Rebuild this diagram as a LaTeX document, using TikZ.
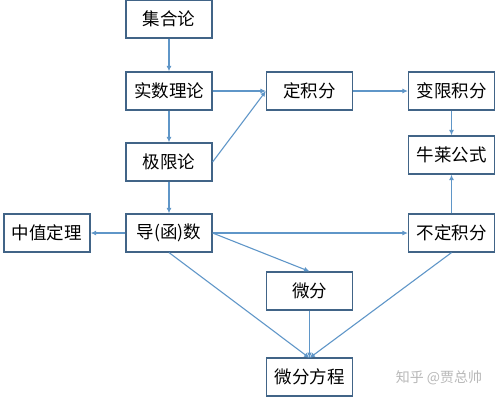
\documentclass[tikz,border=0pt]{standalone}
\usepackage{fontspec}
\setmainfont{Noto Sans CJK SC}
\usetikzlibrary{arrows.meta}
\definecolor{boxc}{RGB}{65,100,135}
\definecolor{linec}{RGB}{95,150,200}
\tikzset{
  box/.style={draw=boxc, line width=1.2pt, fill=white, minimum width=86pt, minimum height=38pt, inner sep=0pt, font=\fontsize{17.5}{20}\selectfont},
  conn/.style={draw=linec, line width=1.1pt, -{Latex[length=5.5pt,width=5pt]}}
}
\begin{document}
\begin{tikzpicture}[x=1pt,y=-1pt]
\useasboundingbox (0,0) rectangle (498,400);
\node[box] (jh) at (169,19) {集合论};
\node[box] (ss) at (169,91) {实数理论};
\node[box] (jx) at (169,162) {极限论};
\node[box] (ds) at (169,233) {导(函)数};
\node[box] (zz) at (47,233) {中值定理};
\node[box] (dj) at (309.5,91) {定积分};
\node[box] (bx) at (451.5,91) {变限积分};
\node[box] (nl) at (451.5,155) {牛莱公式};
\node[box] (bd) at (451.5,233) {不定积分};
\node[box] (wf) at (309.5,291) {微分};
\node[box] (wfc) at (309.5,377) {微分方程};
\node[text=black!28, font=\fontsize{14}{16}\selectfont, anchor=center] (wm) at (439,378) {知乎 @贾总帅};
\coordinate (wftop) at (309.5,358);
\draw[conn] (jh) -- (ss);
\draw[conn] (ss) -- (jx);
\draw[conn] (jx) -- (ds);
\draw[conn] (ss.east) -- (dj.west);
\draw[conn] (jx.east) -- (dj.west);
\draw[conn] (dj) -- (bx);
\draw[conn] (bx) -- (nl);
\draw[conn] (bd) -- (nl);
\draw[conn] (ds) -- (zz);
\draw[conn] (ds.east) -- (bd.west);
\draw[conn] (ds.east) -- (wf.north);
\draw[conn] (ds.south) -- (wftop);
\draw[conn] (wf) -- (wftop);
\draw[conn] (bd.south) -- (wftop);
\end{tikzpicture}
\end{document}
